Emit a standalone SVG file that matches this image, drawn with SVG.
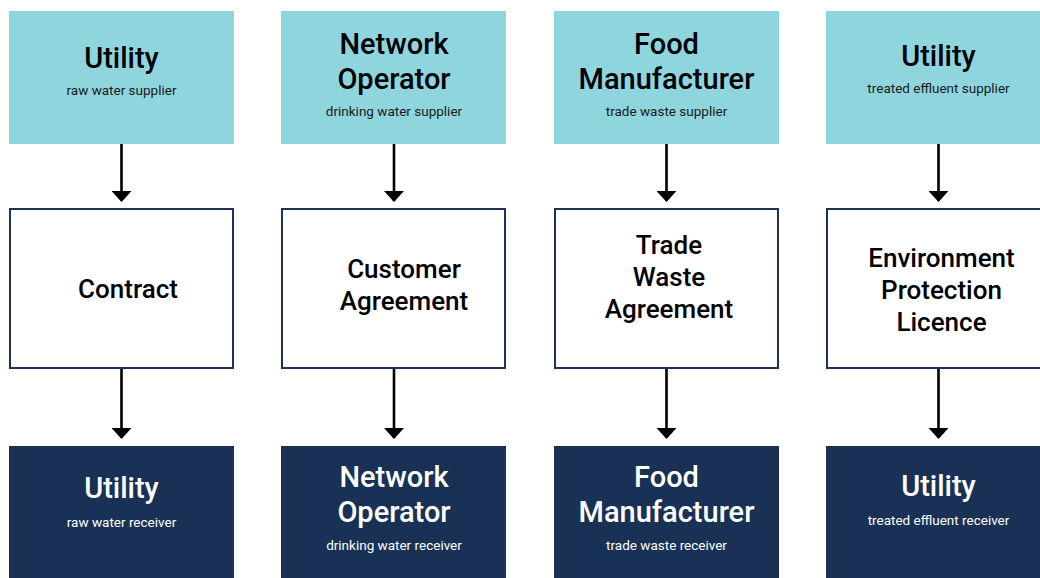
<svg xmlns="http://www.w3.org/2000/svg" width="1040" height="578" viewBox="0 0 1040 578">
<style>
.top{fill:#8fd5de}
.mid{fill:#ffffff;stroke:#1b3358;stroke-width:2}
.bot{fill:#183154}
text{font-family:Roboto,"Liberation Sans",sans-serif;text-anchor:middle}
.t{font-size:29px;font-weight:500;fill:#000}
.s{font-size:13.5px;fill:#1a1a1a}
.m{font-size:26px;font-weight:500;fill:#000}
.tw{font-size:29px;font-weight:500;fill:#ffffff}
.sw{font-size:13.5px;fill:#ffffff}
.c{stroke:#000;stroke-width:2.6;fill:none;marker-end:url(#ah)}
</style>
<defs>
<marker id="ah" markerUnits="userSpaceOnUse" markerWidth="11" markerHeight="20" refX="10" refY="10" orient="auto" viewBox="0 0 11 20">
<path d="M0,0 L11,10 L0,20 Z" fill="#000"/>
</marker>
</defs>
<g id="connectors">
<path class="c" d="M121.5,144 V201"/>
<path class="c" d="M121.5,369 V438"/>
<path class="c" d="M394,144 V201"/>
<path class="c" d="M394,369 V438"/>
<path class="c" d="M666.5,144 V201"/>
<path class="c" d="M666.5,369 V438"/>
<path class="c" d="M938.5,144 V201"/>
<path class="c" d="M938.5,369 V438"/>
</g>
<g id="utility-raw-supplier">
<rect class="top" x="9" y="11" width="225" height="133"/>
<text class="t" x="121.5" y="68">Utility</text>
<text class="s" x="121.5" y="95">raw water supplier</text>
</g>
<g id="network-operator-supplier">
<rect class="top" x="281" y="11" width="225" height="133"/>
<text class="t" x="394" y="54">Network</text>
<text class="t" x="394" y="89">Operator</text>
<text class="s" x="394" y="116">drinking water supplier</text>
</g>
<g id="food-manufacturer-supplier">
<rect class="top" x="554" y="11" width="225" height="133"/>
<text class="t" x="666.5" y="54">Food</text>
<text class="t" x="666.5" y="89">Manufacturer</text>
<text class="s" x="666.5" y="116">trade waste supplier</text>
</g>
<g id="utility-effluent-supplier">
<rect class="top" x="826" y="11" width="225" height="133"/>
<text class="t" x="938.5" y="66">Utility</text>
<text class="s" x="938.5" y="93">treated effluent supplier</text>
</g>
<g id="contract">
<rect class="mid" x="10" y="209" width="223" height="159"/>
<text class="m" x="128" y="298">Contract</text>
</g>
<g id="customer-agreement">
<rect class="mid" x="282" y="209" width="223" height="159"/>
<text class="m" x="404" y="278">Customer</text>
<text class="m" x="404" y="310">Agreement</text>
</g>
<g id="trade-waste-agreement">
<rect class="mid" x="555" y="209" width="223" height="159"/>
<text class="m" x="669" y="254">Trade</text>
<text class="m" x="669" y="286">Waste</text>
<text class="m" x="669" y="318">Agreement</text>
</g>
<g id="environment-protection-licence">
<rect class="mid" x="827" y="209" width="223" height="159"/>
<text class="m" x="941.5" y="267">Environment</text>
<text class="m" x="941.5" y="299">Protection</text>
<text class="m" x="941.5" y="331">Licence</text>
</g>
<g id="utility-raw-receiver">
<rect class="bot" x="9" y="446" width="225" height="132"/>
<text class="tw" x="121.5" y="498">Utility</text>
<text class="sw" x="121.5" y="527">raw water receiver</text>
</g>
<g id="network-operator-receiver">
<rect class="bot" x="281" y="446" width="225" height="132"/>
<text class="tw" x="394" y="487">Network</text>
<text class="tw" x="394" y="522">Operator</text>
<text class="sw" x="394" y="550">drinking water receiver</text>
</g>
<g id="food-manufacturer-receiver">
<rect class="bot" x="554" y="446" width="225" height="132"/>
<text class="tw" x="666.5" y="487">Food</text>
<text class="tw" x="666.5" y="522">Manufacturer</text>
<text class="sw" x="666.5" y="550">trade waste receiver</text>
</g>
<g id="utility-effluent-receiver">
<rect class="bot" x="826" y="446" width="225" height="132"/>
<text class="tw" x="938.5" y="496">Utility</text>
<text class="sw" x="938.5" y="525">treated effluent receiver</text>
</g>
</svg>
